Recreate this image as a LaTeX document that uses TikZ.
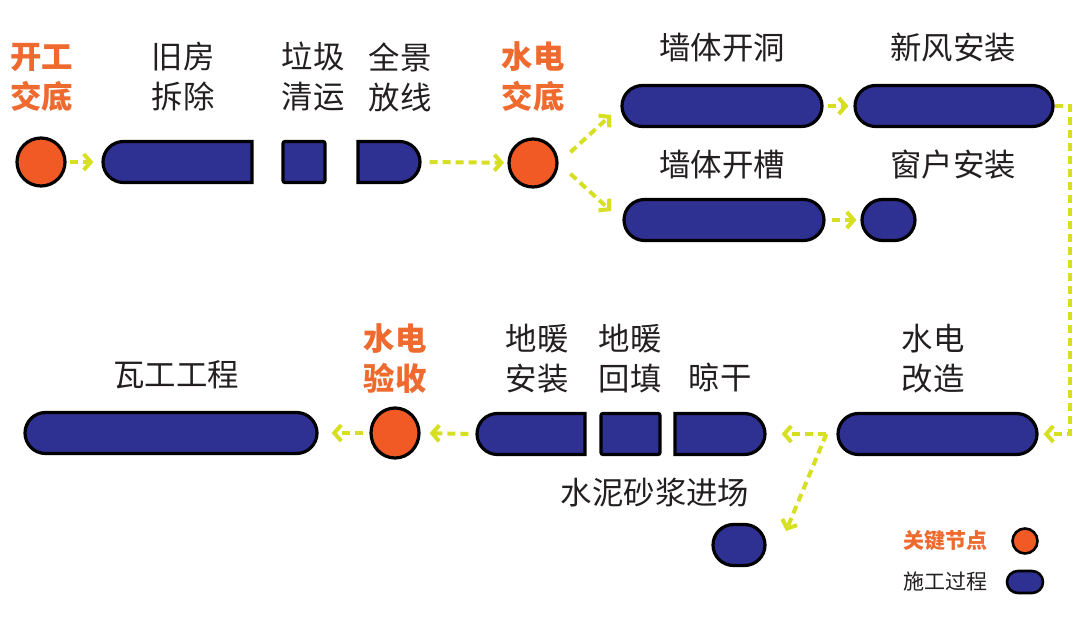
\documentclass[tikz,border=0pt]{standalone}
\usepackage{fontspec}
\setmainfont{Noto Sans CJK SC}
\usetikzlibrary{shapes.misc,shapes.geometric,arrows.meta}
\definecolor{navy}{RGB}{46,49,146}
\definecolor{korange}{RGB}{241,90,36}
\definecolor{torange}{RGB}{238,106,46}
\definecolor{lime}{RGB}{215,223,35}
\definecolor{ink}{RGB}{35,31,32}
\begin{document}
\begin{tikzpicture}[x=0.5pt,y=-0.5pt,
  proc/.style={rounded rectangle, draw=black, line width=1.6pt, fill=navy, minimum height=20.5pt, inner sep=0pt},
  leftround/.style={rounded rectangle right arc=none},
  rightround/.style={rounded rectangle left arc=none},
  boxproc/.style={rectangle, draw=black, line width=1.6pt, fill=navy, minimum height=20.5pt, inner sep=0pt, rounded corners=1pt},
  keynode/.style={circle, draw=black, line width=1.6pt, fill=korange, minimum size=24pt, inner sep=0pt},
  flow/.style={draw=lime, line width=2pt, dash pattern=on 4pt off 2.5pt, -{Straight Barb[length=3.5pt,width=8pt,line width=2pt]}},
  lab/.style={font=\fontsize{15.7}{20}\selectfont, text=ink, align=center, inner sep=0pt},
  olab/.style={font=\fontsize{15.7}{20}\selectfont\bfseries, text=torange, align=center, inner sep=0pt},
  leg/.style={font=\fontsize{10.5}{13}\selectfont, text=ink, inner sep=0pt}
]
\useasboundingbox (0,0) rectangle (1080,630);
\fill[white] (0,0) rectangle (1080,630);

% ---- row 1 ----
\node[keynode] (c1) at (41,162) {};
\node[proc, leftround, minimum width=74.5pt] (b1) at (177.5,162) {};
\node[boxproc, minimum width=21pt] (b2) at (304,162) {};
\node[proc, rightround, minimum width=31pt] (b3) at (389,162) {};
\node[keynode] (c2) at (533,163) {};

\node[olab] (t1) at (42,77) {开工\\交底};
\node[lab] (t2) at (183,77) {旧房\\拆除};
\node[lab] (t3) at (313,77) {垃圾\\清运};
\node[lab] (t4) at (400,77) {全景\\放线};
\node[olab] (t5) at (533,77) {水电\\交底};

% ---- upper branches ----
\node[proc, minimum width=100pt] (b4) at (722,106) {};
\node[proc, minimum width=99pt] (b5) at (954,106) {};
\node[proc, minimum width=100pt] (b6) at (724,220) {};
\node[proc, minimum width=26.5pt] (b7) at (888.5,220) {};

\node[lab] (t6) at (722,48) {墙体开洞};
\node[lab] (t7) at (953,48) {新风安装};
\node[lab] (t8) at (722,165) {墙体开槽};
\node[lab] (t9) at (953,165) {窗户安装};

% ---- row 3 ----
\node[proc, minimum width=99.5pt] (b8) at (937.5,434) {};
\node[proc, rightround, minimum width=45pt] (b9) at (720,434) {};
\node[boxproc, minimum width=29.5pt] (b10) at (630.5,434) {};
\node[proc, leftround, minimum width=54pt] (b11) at (531,434) {};
\node[ellipse, draw=black, line width=1.6pt, fill=korange, minimum width=24pt, minimum height=25pt, inner sep=0pt] (c3) at (395,433) {};
\node[proc, minimum width=146pt] (b12) at (171,433) {};
\node[proc, minimum width=26pt] (b13) at (739,545) {};

\node[lab] (t10) at (933,359) {水电\\改造};
\node[olab] (t11) at (395,359) {水电\\验收};
\node[lab] (t12) at (537,359) {地暖\\安装};
\node[lab] (t13) at (630,359) {地暖\\回填};
\node[lab] (t14) at (720,378) {晾干};
\node[lab] (t15) at (176,375) {瓦工工程};
\node[lab] (t16) at (655,493) {水泥砂浆进场};

% ---- legend ----
\node[leg, text=torange, font=\fontsize{10.5}{13}\selectfont\bfseries] (l1) at (945,541) {关键节点};
\node[keynode, minimum size=12.5pt, line width=1.3pt] (lc) at (1025,541) {};
\node[leg] (l2) at (945,582) {施工过程};
\node[proc, minimum width=18pt, minimum height=11pt, line width=1.3pt] (lp) at (1025,582) {};

% ---- connectors ----
\coordinate (tipu) at (611,115);
\coordinate (tipd) at (611,211);
\draw[flow, shorten <=1.5pt, shorten >=4pt] (c1.east) -- (b1.west);
\draw[flow, shorten <=4pt, shorten >=14.5pt] (b3.east) -- (c2.center);
\draw[flow, shorten <=8pt] (c2.east) -- (tipu);
\draw[flow, shorten <=8pt] (c2.east) -- (tipd);
\draw[flow, shorten <=2pt, shorten >=2.5pt] (b4.east) -- (b5.west);
\draw[flow, shorten <=3pt, shorten >=2pt] (b6.east) -- (b7.west);
\draw[flow, shorten <=0pt, shorten >=2.5pt] (b5.east) -- ++(15,0) |- (b8.east);
\coordinate (split) at ([xshift=-5pt]b8.west);
\coordinate (tipw) at (786,531);
\draw[flow, shorten >=7.5pt] (split) -- (b9.east);
\draw[flow] (split) -- (tipw);
\draw[flow, shorten <=3.5pt, shorten >=4.5pt] (b11.west) -- (c3.east);
\draw[flow, shorten <=3pt, shorten >=6.5pt] (c3.west) -- (b12.east);
\end{tikzpicture}
\end{document}
